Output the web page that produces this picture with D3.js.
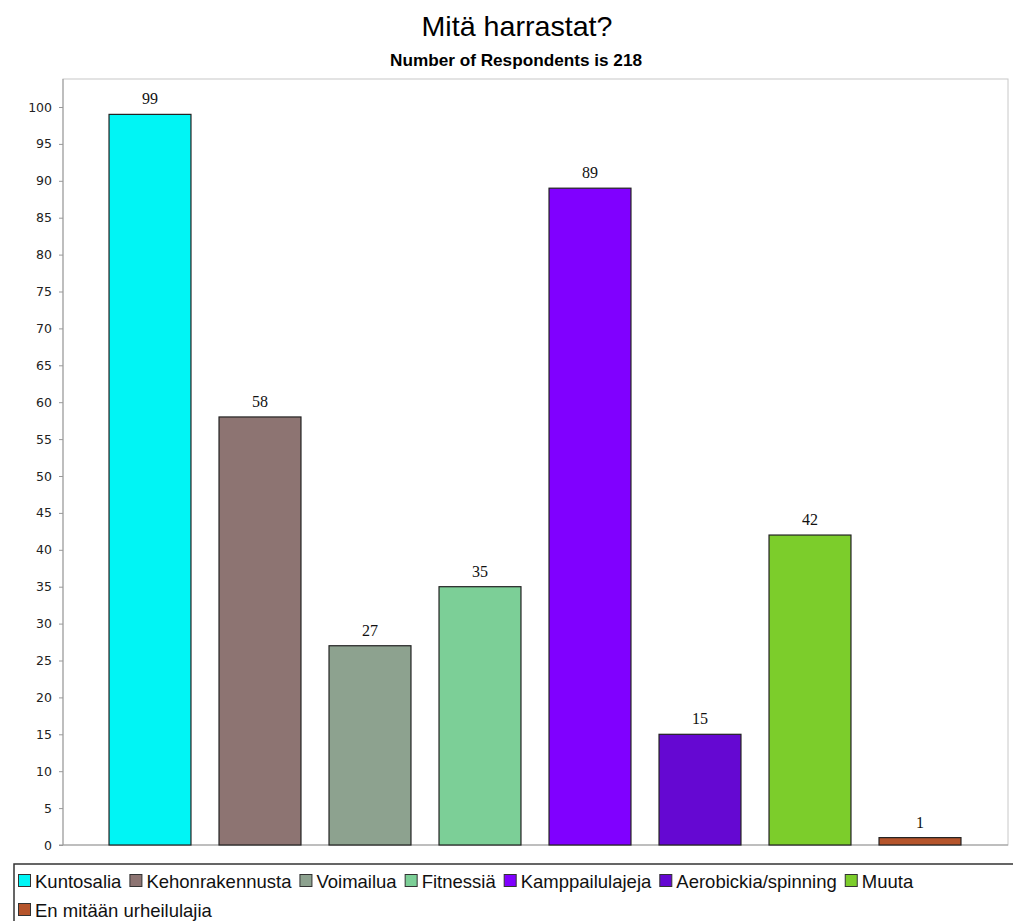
<!DOCTYPE html>
<html>
<head>
<meta charset="utf-8">
<script src="https://cdn.jsdelivr.net/npm/d3@7"></script>
<style>
  html, body { margin: 0; padding: 0; background: #fff; }
  svg { display: block; }
</style>
</head>
<body>
<svg id="chart" width="1013" height="921"></svg>
<script>
// Survey answers: "Mitä harrastat?"
const categories = ["Kuntosalia", "Kehonrakennusta", "Voimailua", "Fitnessiä",
                    "Kamppailulajeja", "Aerobickia/spinning", "Muuta", "En mitään urheilulajia"];
const counts = [99, 58, 27, 35, 89, 15, 42, 1];
const colors = ["#00f5f5", "#8d7472", "#8da28f", "#7ccf97", "#8000ff", "#6508d2", "#7ccd2b", "#b5542b"];
const yTicks = d3.range(0, 101, 5);

const svg = d3.select("#chart");

// plot area
const plotLeft = 63, plotRight = 1008, plotTop = 79, plotBottom = 845;

const x = d3.scaleBand().domain(categories).range([95, 975]).padding(0);
const y = d3.scaleLinear().domain([0, 100]).range([plotBottom, 107]);
const barW = x.bandwidth() * 0.745;

// frame
svg.append("rect")
  .attr("x", plotLeft).attr("y", plotTop)
  .attr("width", plotRight - plotLeft).attr("height", plotBottom - plotTop)
  .attr("fill", "#fff").attr("stroke", "#c8c8c8").attr("stroke-width", 1);

// titles
svg.append("text")
  .attr("x", 517).attr("y", 36)
  .attr("text-anchor", "middle")
  .attr("font-family", "'Liberation Sans', Arial, sans-serif")
  .attr("font-size", 28)
  .attr("textLength", 191)
  .attr("lengthAdjust", "spacingAndGlyphs")
  .attr("fill", "#000")
  .text("Mitä harrastat?");
svg.append("text")
  .attr("x", 516).attr("y", 66)
  .attr("text-anchor", "middle")
  .attr("font-family", "'Liberation Sans', Arial, sans-serif")
  .attr("font-weight", "bold")
  .attr("font-size", 16.5)
  .attr("textLength", 252)
  .attr("lengthAdjust", "spacingAndGlyphs")
  .attr("fill", "#000")
  .text("Number of Respondents is 218");

// y axis
const yAxis = d3.axisLeft(y).tickValues(yTicks).tickSize(4).tickPadding(7);
const gy = svg.append("g")
  .attr("transform", `translate(${plotLeft},0)`)
  .call(yAxis);
gy.select(".domain").attr("stroke", "#999").attr("d", `M-4,${plotBottom}H0V${plotTop}`);
gy.selectAll(".tick line").attr("stroke", "#999");
gy.selectAll(".tick text")
  .attr("font-family", "'DejaVu Sans', Verdana, sans-serif")
  .attr("font-size", 12.5)
  .attr("fill", "#222");

// x baseline
svg.append("line")
  .attr("x1", plotLeft).attr("x2", plotRight)
  .attr("y1", plotBottom).attr("y2", plotBottom)
  .attr("stroke", "#999");

// bars
svg.append("g").selectAll("rect")
  .data(categories)
  .join("rect")
  .attr("x", d => x(d) + (x.bandwidth() - barW) / 2)
  .attr("y", (d, i) => y(counts[i]))
  .attr("width", barW)
  .attr("height", (d, i) => y(0) - y(counts[i]))
  .attr("fill", (d, i) => colors[i])
  .attr("stroke", "#222")
  .attr("stroke-width", 1.2);

// value labels
svg.append("g").selectAll("text")
  .data(categories)
  .join("text")
  .attr("x", d => x(d) + x.bandwidth() / 2)
  .attr("y", (d, i) => y(counts[i]) - 10)
  .attr("text-anchor", "middle")
  .attr("font-family", "'Liberation Serif', 'Times New Roman', serif")
  .attr("font-size", 16)
  .attr("fill", "#111")
  .text((d, i) => counts[i]);

// legend
svg.append("path")
  .attr("d", "M1013,864H14V921")
  .attr("fill", "none")
  .attr("stroke", "#333")
  .attr("stroke-width", 1.5);

const legendFont = "'Liberation Sans', Arial, sans-serif";
const legendSize = 18.5;
const measure = svg.append("text")
  .attr("font-family", legendFont).attr("font-size", legendSize)
  .attr("visibility", "hidden");
function textWidth(s) { measure.text(s); return measure.node().getComputedTextLength(); }

const legend = svg.append("g");
let lx = 18, ly = 888;
categories.forEach((c, i) => {
  const w = 17 + textWidth(c) + 8;
  if (lx + w > 1005) { lx = 18; ly += 29; }
  legend.append("rect")
    .attr("x", lx + 0.5).attr("y", ly - 13.5)
    .attr("width", 12).attr("height", 12)
    .attr("fill", colors[i]).attr("stroke", "#333").attr("stroke-width", 1);
  legend.append("text")
    .attr("x", lx + 17).attr("y", ly)
    .attr("font-family", legendFont).attr("font-size", legendSize)
    .attr("fill", "#111")
    .text(c);
  lx += w;
});
measure.remove();
</script>
</body>
</html>
